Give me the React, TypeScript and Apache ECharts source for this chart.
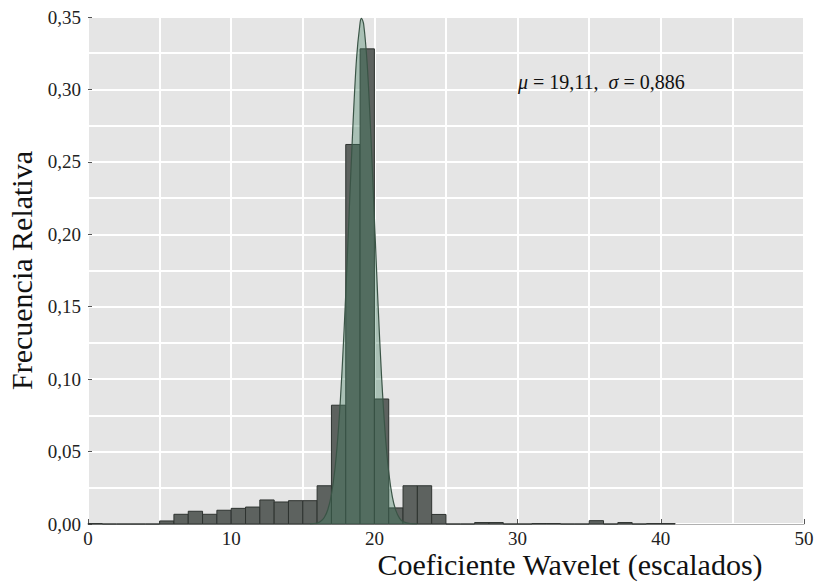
import React, { useEffect, useRef } from "react";
import * as echarts from "echarts";

// Histogram: left bin edges (width 1) and relative frequencies
const binLeft = [0, 1, 2, 3, 4, 5, 6, 7, 8, 9, 10, 11, 12, 13, 14, 15, 16, 17, 18, 19, 20, 21, 22, 23, 24, 25, 26, 27, 28, 29, 30, 31, 32, 33, 34, 35, 36, 37, 38, 39, 40];
const binFreq = [0.0003, 0, 0, 0, 0, 0.0021, 0.0067, 0.0088, 0.0067, 0.0095, 0.0108, 0.0117, 0.0166, 0.0152, 0.0161, 0.0161, 0.0264, 0.082, 0.262, 0.328, 0.0863, 0.0111, 0.0264, 0.0264, 0.0066, 0, 0, 0.001, 0.001, 0, 0, 0.0003, 0.0003, 0, 0, 0.0023, 0, 0.001, 0, 0.0003, 0.0003];

// Fitted curve
const curveX = [15.5, 16.0, 16.25, 16.5, 16.75, 17.0, 17.25, 17.5, 17.75, 18.0, 18.25, 18.5, 18.75, 19.0, 19.1, 19.25, 19.5, 19.75, 20.0, 20.25, 20.5, 20.75, 21.0, 21.25, 21.5, 21.75, 22.0, 22.5, 23.0];
const curveY = [0.0001, 0.0007, 0.0019, 0.0045, 0.01, 0.0205, 0.0385, 0.067, 0.1075, 0.159, 0.218, 0.275, 0.321, 0.346, 0.349, 0.345, 0.317, 0.269, 0.211, 0.1525, 0.102, 0.063, 0.0359, 0.0189, 0.0092, 0.0041, 0.0017, 0.0002, 0];

const xTicks = [0, 10, 20, 30, 40, 50];
const yTicks = [0, 0.05, 0.1, 0.15, 0.2, 0.25, 0.3, 0.35];

const SERIF = "'Liberation Serif', 'DejaVu Serif', serif";

export default function App() {
  const ref = useRef<HTMLDivElement>(null);
  useEffect(() => {
    document.body.style.margin = "0";
    if (!ref.current) return;
    const chart = echarts.init(ref.current, null, { renderer: "svg" });
    const histData = binLeft.map((l, i) => [l, l + 1, binFreq[i]]);
    const curveData = curveX.map((x, i) => [x, curveY[i]]);
    chart.setOption({
      animation: false,
      grid: {
        left: 88,
        right: 12,
        top: 17,
        bottom: 59,
        containLabel: false,
        outerBoundsMode: "none",
        show: true,
        backgroundColor: "#e5e5e5",
        borderWidth: 0,
      },
      xAxis: {
        type: "value",
        min: xTicks[0],
        max: xTicks[xTicks.length - 1],
        interval: 10,
        name: "Coeficiente Wavelet (escalados)",
        nameLocation: "middle",
        nameGap: 24,
        nameMoveOverlap: false,
        nameTextStyle: { fontFamily: SERIF, fontSize: 30, color: "#111", padding: [0, 0, 0, 248], lineHeight: 32 },
        axisLine: { show: true, lineStyle: { color: "#b0b0b0", width: 1 } },
        axisTick: { show: true, inside: true, length: 5, lineStyle: { color: "#555" } },
        axisLabel: { fontFamily: SERIF, fontSize: 19, color: "#222", margin: 5 },
        splitLine: { show: true, lineStyle: { color: "#ffffff", width: 2 } },
        minorTick: { show: false, splitNumber: 2 },
        minorSplitLine: { show: true, lineStyle: { color: "#ffffff", width: 2 } },
      },
      yAxis: {
        type: "value",
        min: yTicks[0],
        max: yTicks[yTicks.length - 1],
        interval: 0.05,
        name: "Frecuencia Relativa",
        nameLocation: "middle",
        nameGap: 52,
        nameTextStyle: { fontFamily: SERIF, fontSize: 30, color: "#111" },
        axisLine: { show: false },
        axisTick: { show: true, inside: true, length: 4, lineStyle: { color: "#555" } },
        axisLabel: {
          fontFamily: SERIF,
          fontSize: 19,
          color: "#222",
          margin: 7,
          formatter: (v: number) => v.toFixed(2).replace(".", ","),
        },
        splitLine: { show: true, lineStyle: { color: "#ffffff", width: 2 } },
        minorTick: { show: false, splitNumber: 2 },
        minorSplitLine: { show: true, lineStyle: { color: "#ffffff", width: 2 } },
      },
      series: [
        {
          type: "custom",
          data: histData,
          encode: { x: [0, 1], y: 2 },
          z: 2,
          renderItem: (params: any, api: any) => {
            const x0 = api.value(0);
            const x1 = api.value(1);
            const h = api.value(2);
            const p0 = api.coord([x0, h]);
            const p1 = api.coord([x1, 0]);
            return {
              type: "rect",
              shape: { x: p0[0], y: p0[1], width: p1[0] - p0[0], height: p1[1] - p0[1] },
              style: { fill: "#5d625f", stroke: "#2e3330", lineWidth: 1 },
            };
          },
        },
        {
          type: "line",
          data: curveData,
          z: 3,
          smooth: 0.3,
          symbol: "none",
          lineStyle: { color: "#3a5446", width: 1.2 },
          areaStyle: { color: "rgba(67,129,99,0.53)", origin: 0 },
        },
      ],
      graphic: [
        {
          type: "text",
          x: 518,
          y: 72,
          z: 10,
          style: {
            text: "{i|μ} = 19,11,  {i|σ} = 0,886",
            fontFamily: SERIF,
            fontSize: 20,
            fill: "#111",
            rich: {
              i: { fontFamily: SERIF, fontStyle: "italic", fontSize: 20, fill: "#111" },
            },
          },
        },
      ],
    });
    return () => chart.dispose();
  }, []);
  return <div ref={ref} style={{ width: 816, height: 583 }} />;
}
